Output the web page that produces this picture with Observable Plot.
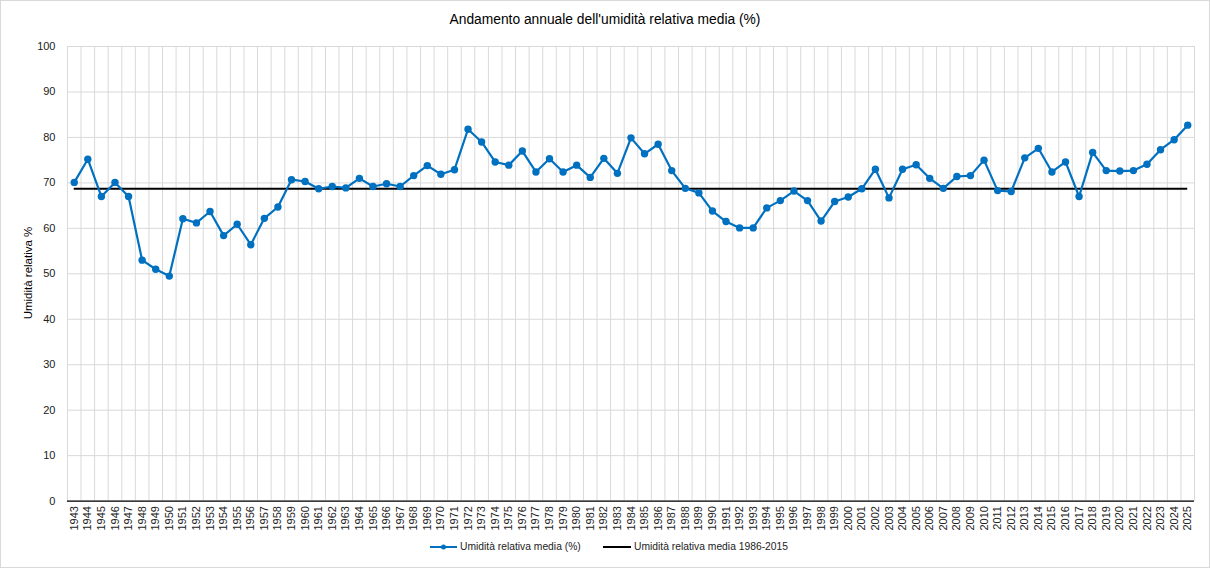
<!DOCTYPE html>
<html>
<head>
<meta charset="utf-8">
<script src="https://cdn.jsdelivr.net/npm/d3@7"></script>
<script src="https://cdn.jsdelivr.net/npm/@observablehq/plot@0.6"></script>
<style>
  html, body { margin: 0; padding: 0; background: #fff; }
  #wrap { position: relative; width: 1210px; height: 568px; box-sizing: border-box; border: 1px solid #d9d9d9; overflow: hidden; font-family: "Liberation Sans", Arial, sans-serif; color: #000; }
  #title { position: absolute; top: 11px; left: 0; width: 100%; text-align: center; font-size: 13.8px; }
  #chart { position: absolute; top: 35px; left: -1px; }
  #ylabel { position: absolute; left: 27px; top: 272px; transform: translate(-50%, -50%) rotate(-90deg); font-size: 11.5px; white-space: nowrap; }
  .leg { position: absolute; top: 540px; display: flex; align-items: center; font-size: 10.3px; color: #222; white-space: nowrap; }
  .leg svg { margin-right: 3px; }
</style>
</head>
<body>
<div id="wrap">
  <div id="title">Andamento annuale dell'umidità relativa media (%)</div>
  <div id="chart"></div>
  <div id="ylabel">Umidità relativa %</div>
  <div class="leg" style="left:429px">
    <svg width="27" height="10"><line x1="0" y1="5" x2="27" y2="5" stroke="#0070C0" stroke-width="2"/><circle cx="13.5" cy="5" r="2.5" fill="#0070C0"/></svg>
    <span id="leg1"></span>
  </div>
  <div class="leg" style="left:602px">
    <svg width="28" height="10"><line x1="0" y1="5" x2="28" y2="5" stroke="#000" stroke-width="2"/></svg>
    <span id="leg2"></span>
  </div>
</div>
<script>
// ---- Data ----
const years = d3.range(1943, 2026);
const humidity = [
  70.1, 75.2, 67.0, 70.1, 67.0, 53.0, 51.0, 49.5, 62.1, 61.2,
  63.7, 58.4, 60.9, 56.4, 62.2, 64.7, 70.7, 70.3, 68.7, 69.2,
  68.9, 71.0, 69.2, 69.8, 69.2, 71.6, 73.8, 71.9, 72.9, 81.8,
  79.0, 74.6, 73.9, 77.0, 72.4, 75.3, 72.4, 73.9, 71.2, 75.4,
  72.1, 79.9, 76.4, 78.5, 72.7, 68.8, 67.8, 63.8, 61.5, 60.1,
  60.1, 64.5, 66.1, 68.2, 66.1, 61.6, 65.9, 66.9, 68.7, 73.0,
  66.7, 73.0, 74.0, 71.0, 68.8, 71.4, 71.6, 75.0, 68.3, 68.1,
  75.5, 77.6, 72.4, 74.6, 67.0, 76.7, 72.7, 72.6, 72.7, 74.1,
  77.3, 79.5, 82.7
];
const baselineValue = 68.7;
const seriesName = "Umidità relativa media (%)";
const baselineName = "Umidità relativa media 1986-2015";
const yTicks = [0, 10, 20, 30, 40, 50, 60, 70, 80, 90, 100];

document.getElementById("leg1").textContent = seriesName;
document.getElementById("leg2").textContent = baselineName;

const data = years.map((year, i) => ({year, value: humidity[i]}));
const boundaries = [...years.map(y => y - 0.5), years[years.length - 1] + 0.5];
const firstYear = years[0], lastYear = years[years.length - 1];

const chart = Plot.plot({
  width: 1210,
  height: 505,
  marginTop: 10,
  marginLeft: 67,
  marginRight: 15,
  marginBottom: 40,
  style: {fontFamily: "'Liberation Sans', Arial, sans-serif", fontSize: "11px", color: "#222", background: "transparent"},
  x: {type: "linear", domain: [firstYear - 0.5, lastYear + 0.5], ticks: years, tickFormat: d => String(d), tickRotate: -90, tickSize: 0, tickPadding: 5, label: null},
  y: {domain: [0, 100], ticks: yTicks, tickSize: 0, tickPadding: 12, label: null},
  marks: [
    Plot.ruleY(yTicks, {stroke: "#d9d9d9", strokeWidth: 1}),
    Plot.ruleX(boundaries, {stroke: "#d9d9d9", strokeWidth: 1}),
    Plot.ruleY([0], {stroke: "#000", strokeWidth: 1.2}),
    Plot.ruleY([baselineValue], {x1: firstYear, x2: lastYear, stroke: "#000", strokeWidth: 2}),
    Plot.line(data, {x: "year", y: "value", stroke: "#0070C0", strokeWidth: 2.2}),
    Plot.dot(data, {x: "year", y: "value", fill: "#0070C0", r: 3.7})
  ]
});
document.getElementById("chart").appendChild(chart);
</script>
</body>
</html>
